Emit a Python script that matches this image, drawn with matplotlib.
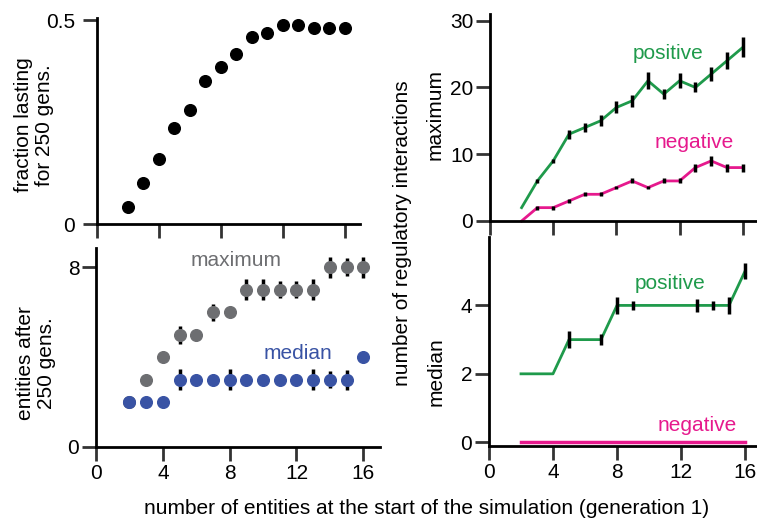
import numpy as np
import matplotlib.pyplot as plt

plt.rcParams['font.family'] = ['Liberation Sans', 'DejaVu Sans']

W, H = 757, 523

# --- data ---
n_start = np.arange(2, 17)

frac_lasting = [0.042, 0.10, 0.159, 0.235, 0.279, 0.35, 0.386, 0.417,
                0.459, 0.469, 0.487, 0.487, 0.48, 0.48, 0.48]

ent_max = [2, 3, 4, 5, 5, 6, 6, 7, 7, 7, 7, 7, 8, 8, 8]
ent_max_err = [0, 0, 0, 0.4, 0, 0.38, 0, 0.46, 0.46, 0.37, 0.38, 0.46, 0.46, 0.4, 0.46]
ent_med = [2, 2, 2, 3, 3, 3, 3, 3, 3, 3, 3, 3, 3, 3, 4]
ent_med_err = [0, 0, 0, 0.47, 0, 0, 0.47, 0, 0, 0, 0, 0.47, 0.37, 0.45, 0]

pos_max = [2, 6, 9, 13, 14, 15, 17, 18, 21, 19, 21, 20, 22, 24, 26]
pos_max_err = [0, 0.33, 0.33, 0.7, 0.7, 0.8, 0.9, 0.9, 1.3, 0.75, 1.1, 0.75, 1.05, 1.3, 1.5]
neg_max = [0, 2, 2, 3, 4, 4, 5, 6, 5, 6, 6, 8, 9, 8, 8]
neg_max_err = [0, 0.28, 0.28, 0.28, 0.28, 0.28, 0.28, 0.38, 0.28, 0.38, 0.38, 0.6, 0.7, 0.6, 0.6]

pos_med = [2, 2, 2, 3, 3, 3, 4, 4, 4, 4, 4, 4, 4, 4, 5]
pos_med_err = [0, 0, 0, 0.25, 0, 0.17, 0.24, 0.13, 0, 0, 0, 0.2, 0.13, 0.24, 0.23]
neg_med = [0] * 15

xticks = [0, 4, 8, 12, 16]

GRAY = '#6d6e71'
BLUE = '#3953a4'
GREEN = '#1f9a4b'
MAGENTA = '#e6198d'
FS = 15


def box(x0, y_top, x1, y_bot):
    return [x0 / W, 1 - y_bot / H, (x1 - x0) / W, (y_bot - y_top) / H]


def style(ax, pad_y=2):
    for s in ['top', 'right']:
        ax.spines[s].set_visible(False)
    for s in ['left', 'bottom']:
        ax.spines[s].set_linewidth(2)
    ax.tick_params(width=2, length=10, color='#333333', labelsize=FS)
    ax.tick_params(axis='y', pad=pad_y)
    ax.tick_params(axis='x', pad=2)
    ax.set_xticks(xticks)


fig = plt.figure(figsize=(W / 100, H / 100), dpi=100)

# top left: fraction lasting
ax1 = fig.add_axes(box(97, 18, 360, 224))
style(ax1, pad_y=6)
ax1.plot(n_start, frac_lasting, 'o', color='black', ms=8.4, clip_on=False)
ax1.set_xlim(0, 17)
ax1.set_ylim(0, 0.505)
ax1.set_yticks([0, 0.5])
ax1.set_yticklabels(['0', '0.5'])
ax1.set_xticklabels([])

# bottom left: entities after 250 gens
ax2 = fig.add_axes(box(96, 248, 380, 447))
style(ax2)
ax2.errorbar(n_start, ent_max, yerr=ent_max_err, fmt='none', ecolor='black',
             elinewidth=2.5, capsize=0, zorder=2)
ax2.plot(n_start, ent_max, 'o', color=GRAY, ms=8.4, zorder=3)
ax2.errorbar(n_start, ent_med, yerr=ent_med_err, fmt='none', ecolor='black',
             elinewidth=2.5, capsize=0, zorder=4)
ax2.plot(n_start, ent_med, 'o', color=BLUE, ms=8.4, zorder=5)
ax2.set_xlim(0, 17)
ax2.set_ylim(0, 8.86)
ax2.set_yticks([0, 8])
ax2.text(8.4, 8.3, 'maximum', color=GRAY, fontsize=FS, ha='center', va='center')
ax2.text(12.06, 4.16, 'median', color=BLUE, fontsize=FS, ha='center', va='center')

# top right: maximum interactions
ax3 = fig.add_axes(box(490, 14, 757, 221))
style(ax3)
ax3.plot(n_start, pos_max, color=GREEN, lw=2, zorder=2)
ax3.errorbar(n_start, pos_max, yerr=pos_max_err, fmt='none', ecolor='black',
             elinewidth=2.5, capsize=0, zorder=3)
ax3.plot(n_start, neg_max, color=MAGENTA, lw=2, zorder=2, clip_on=False)
ax3.errorbar(n_start, neg_max, yerr=neg_max_err, fmt='none', ecolor='black',
             elinewidth=2.5, capsize=0, zorder=3)
ax3.set_xlim(0, 16.9)
ax3.set_ylim(0, 31)
ax3.set_yticks([0, 10, 20, 30])
ax3.set_xticklabels([])
ax3.text(11.26, 25.1, 'positive', color=GREEN, fontsize=FS, ha='center', va='center')
ax3.text(12.95, 11.7, 'negative', color=MAGENTA, fontsize=FS, ha='center', va='center')

# bottom right: median interactions
ax4 = fig.add_axes(box(489, 237, 757, 446))
style(ax4)
ax4.plot(n_start, pos_med, color=GREEN, lw=2, zorder=2)
ax4.errorbar(n_start, pos_med, yerr=pos_med_err, fmt='none', ecolor='black',
             elinewidth=2.5, capsize=0, zorder=3)
ax4.plot(n_start, neg_med, color=MAGENTA, lw=2.5, zorder=2)
ax4.set_xlim(0, 16.75)
ax4.set_ylim(-0.11, 6.0)
ax4.set_yticks([0, 2, 4])
ax4.text(11.3, 4.65, 'positive', color=GREEN, fontsize=FS, ha='center', va='center')
ax4.text(13.04, 0.5, 'negative', color=MAGENTA, fontsize=FS, ha='center', va='center')


def ftext(x, y, s, **kw):
    fig.text(x / W, 1 - y / H, s, fontsize=FS, ha='center', va='center', **kw)


ftext(34, 125, 'fraction lasting\nfor 250 gens.', rotation=90, multialignment='center',
      linespacing=1.1)
ftext(36, 363, 'entities after\n250 gens.', rotation=90, multialignment='center',
      linespacing=1.1)
ftext(403, 233, 'number of regulatory interactions', rotation=90)
ftext(435, 115, 'maximum', rotation=90)
ftext(436, 372, 'median', rotation=90)
ftext(427, 508, 'number of entities at the start of the simulation (generation 1)')

fig.savefig('out.png', dpi=100)
